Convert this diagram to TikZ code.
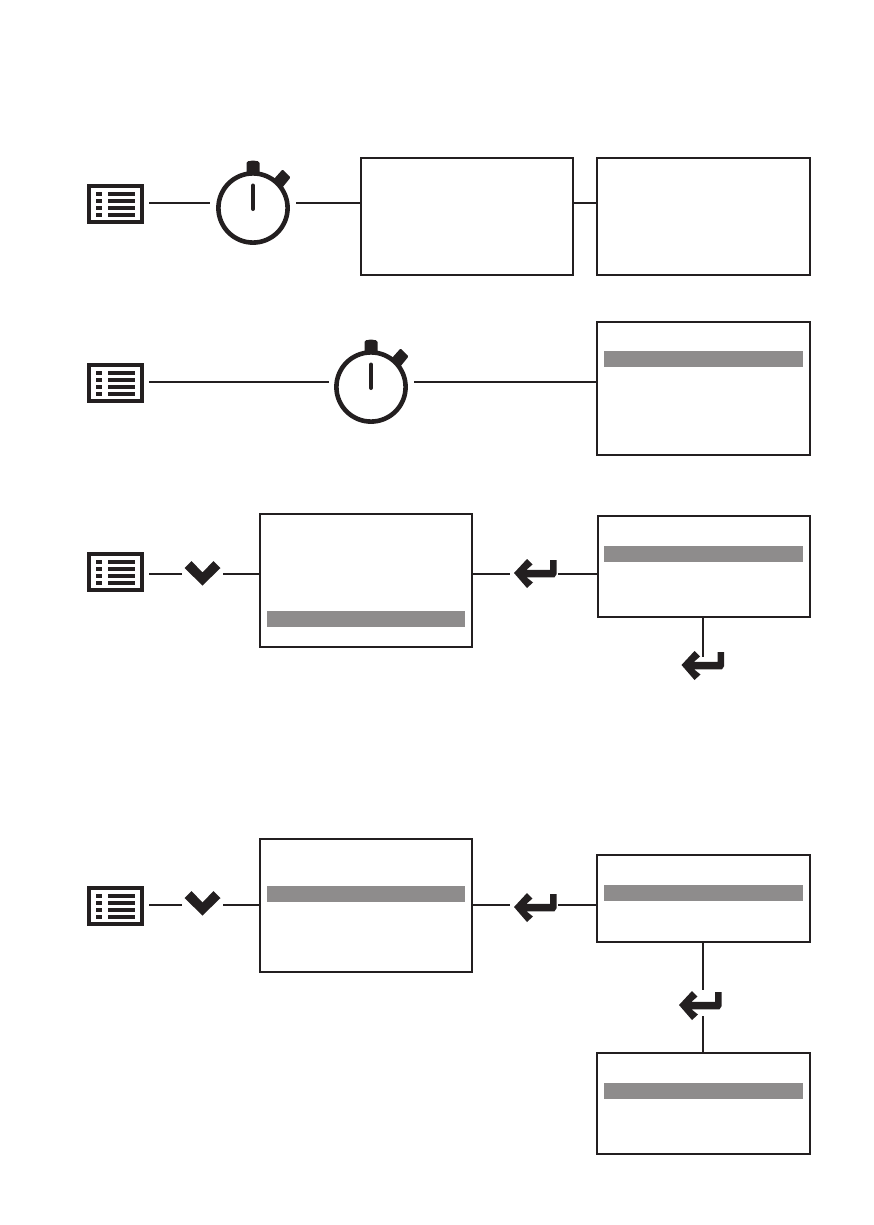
\documentclass[tikz,border=0pt]{standalone}
\definecolor{ink}{HTML}{231F20}
\definecolor{hl}{HTML}{8E8C8C}
\tikzset{
  x=1pt,y=-1pt,
  conn/.style={draw=ink,line width=1.9pt},
  scr/.style={draw=ink,line width=2pt,fill=none,inner sep=0,outer sep=0,anchor=north west},
  bar/.style={fill=hl,draw=none,inner sep=0,outer sep=0,anchor=north west,minimum width=199pt,minimum height=16pt},
  slot/.style={inner sep=0,outer sep=0,minimum height=2pt},
  menuicon/.pic={
    \draw[ink,line width=4pt] (-26.5,-18) rectangle (26.5,18);
    \foreach \yy in {-10,-3,3.7,11}{
      \fill[ink] (-19.5,\yy-2.2) rectangle (-13.5,\yy+2.2);
      \fill[ink] (-7.5,\yy-2.2) rectangle (19.5,\yy+2.2);
    }
  },
  watch/.pic={
    \draw[ink,line width=4.6pt] (0,0) circle (34.6pt);
    \draw[ink,line width=4pt,line cap=round] (0,-22.5) -- (0,1);
    \fill[ink,rounded corners=1.5pt] (-6.5,-34) -- (-6.5,-46.5) -- (0,-47.5) -- (6.5,-46.5) -- (6.5,-34) -- cycle;
    \fill[ink,rounded corners=1pt] (20.5,-28.5) -- (29.5,-38.5) -- (37.5,-30.5) -- (29,-20) -- cycle;
  },
  chev/.pic={
    \fill[ink] (-18,-5) -- (-11,-12) -- (0,-0.5) -- (11,-12) -- (18,-5) -- (0,12.5) -- cycle;
  },
  enter/.pic={
    \fill[ink] (0,0) -- (13,-14) -- (18.5,-8.5) -- (12.5,-3.2) -- (36,-3.2) -- (36,-13) -- (42.7,-13) -- (42.7,1) -- (40.5,4.3) -- (12.5,4.3) -- (19,9.5) -- (13,15) -- cycle;
  }
}
\begin{document}
\begin{tikzpicture}
\useasboundingbox (0,0) rectangle (873,1225);
% screens
\node[scr,minimum width=212pt,minimum height=117pt] (a1) at (361,158) {};
\node[scr,minimum width=213pt,minimum height=117pt] (a2) at (597,158) {};
\node[scr,minimum width=213pt,minimum height=133pt] (b1) at (597,322) {};
\node[bar] (b1h) at (604,351) {};
\node[scr,minimum width=212pt,minimum height=133pt] (c1) at (260,514) {};
\node[bar,minimum width=198pt] (c1h) at (267,611) {};
\node[scr,minimum width=212pt,minimum height=101pt] (c2) at (598,516) {};
\node[bar] (c2h) at (604,546) {};
\node[scr,minimum width=212pt,minimum height=133pt] (d1) at (260,839) {};
\node[bar,minimum width=198pt] (d1h) at (267,886) {};
\node[scr,minimum width=213pt,minimum height=87pt] (d2) at (597,855) {};
\node[bar] (d2h) at (604,885) {};
\node[scr,minimum width=213pt,minimum height=101pt] (d3) at (597,1053) {};
\node[bar] (d3h) at (604,1083) {};
% icon slots: the width of each slot is where its connectors stop
\node[slot,minimum width=0pt] (m1) at (149,203) {};
\node[slot,minimum width=86pt] (s1) at (253,203) {};
\node[slot,minimum width=0pt] (m2) at (149,382) {};
\node[slot,minimum width=85pt] (s2) at (371.5,382) {};
\node[slot,minimum width=0pt] (m3) at (149,574) {};
\node[slot,minimum width=41pt] (v3) at (202.5,574) {};
\node[slot,minimum width=48pt] (e3) at (534,574) {};
\node[slot,minimum width=2pt,minimum height=0pt] (f3) at (703,657) {};
\node[slot,minimum width=0pt] (m4) at (149,905) {};
\node[slot,minimum width=41pt] (v4) at (202.5,905) {};
\node[slot,minimum width=48pt] (e4) at (534,905) {};
\node[slot,minimum width=2pt,minimum height=26pt] (f4) at (703,1003) {};
% icons
\pic at (115.5,204) {menuicon};
\pic at (253,208) {watch};
\pic at (115.5,383) {menuicon};
\pic at (371,387) {watch};
\pic at (115.5,572) {menuicon};
\pic at (202.5,573) {chev};
\pic at (514,573) {enter};
\pic at (681.5,665) {enter};
\pic at (115.5,906) {menuicon};
\pic at (202.5,903) {chev};
\pic at (514,907) {enter};
\pic at (679,1005) {enter};
% connectors
\draw[conn] (m1) -- (s1.west);
\draw[conn] (s1.east) -- (s1.east -| a1.west);
\draw[conn] (a1.east |- s1.east) -- (a2.west |- s1.east);
\draw[conn] (m2) -- (s2.west);
\draw[conn] (s2.east) -- (s2.east -| b1.west);
\draw[conn] (m3) -- (v3.west);
\draw[conn] (v3.east) -- (v3.east -| c1.west);
\draw[conn] (c1.east |- e3.west) -- (e3.west);
\draw[conn] (e3.east) -- (e3.east -| c2.west);
\draw[conn] (f3 |- c2.south) -- (f3);
\draw[conn] (m4) -- (v4.west);
\draw[conn] (v4.east) -- (v4.east -| d1.west);
\draw[conn] (d1.east |- e4.west) -- (e4.west);
\draw[conn] (e4.east) -- (e4.east -| d2.west);
\draw[conn] (f4 |- d2.south) -- (f4.north);
\draw[conn] (f4.south) -- (f4 |- d3.north);
\end{tikzpicture}
\end{document}
